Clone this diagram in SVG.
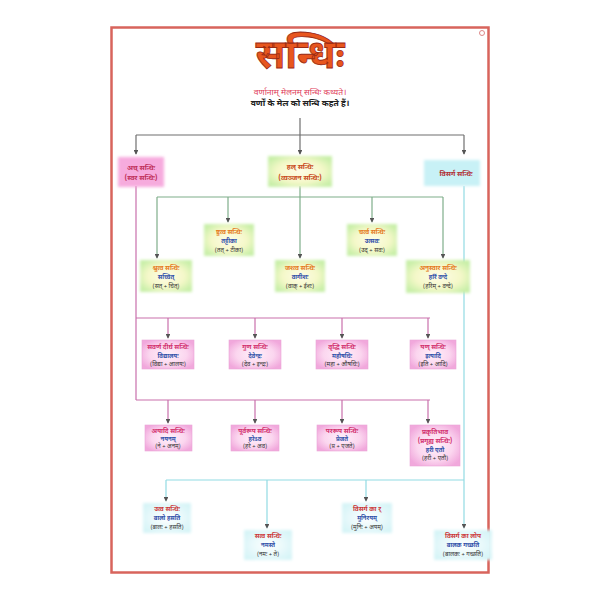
<svg xmlns="http://www.w3.org/2000/svg" width="600" height="600" viewBox="0 0 600 600">
<defs>
<style>
text{font-family:"Noto Sans Devanagari","Noto Sans","Liberation Sans",sans-serif;text-anchor:middle}
.t1{font-size:6.5px;font-weight:bold}
.t2{font-size:6px;fill:#2f4fa8;font-weight:bold}
.t3{font-size:6px;fill:#333}
.hal{fill:#e57a22}
.ac{fill:#d2306e}
.vis{fill:#cc3a3a}
.cg{stroke:#6f6f6f;stroke-width:1.2;fill:none}
.ch{stroke:#7fae8a;stroke-width:1.2;fill:none}
.ca{stroke:#c970ac;stroke-width:1.2;fill:none}
.cv{stroke:#92dbe3;stroke-width:1.2;fill:none}
.ar{marker-end:url(#ar)}
</style>
<marker id="ar" viewBox="0 0 6 6" refX="5" refY="3" markerWidth="4" markerHeight="4" orient="auto">
<path d="M0,0 L6,3 L0,6 z" fill="#555"/>
</marker>
<radialGradient id="gh" cx="50%" cy="50%" r="60%">
<stop offset="0" stop-color="#fffbe6"/><stop offset="0.6" stop-color="#f4f8c8"/><stop offset="1" stop-color="#c8efa8"/>
</radialGradient>
<radialGradient id="ga" cx="50%" cy="50%" r="60%">
<stop offset="0" stop-color="#fff0fa"/><stop offset="0.6" stop-color="#fbd6ef"/><stop offset="1" stop-color="#f1a8dc"/>
</radialGradient>
<radialGradient id="gv" cx="50%" cy="50%" r="60%">
<stop offset="0" stop-color="#ffffff"/><stop offset="1" stop-color="#d6f4f7"/>
</radialGradient>
<filter id="bl" x="-20%" y="-20%" width="140%" height="140%"><feGaussianBlur stdDeviation="1.6"/></filter>
</defs>
<rect width="600" height="600" fill="#fff"/>
<rect x="111.5" y="27.5" width="377" height="545" fill="#fff" stroke="#d8645c" stroke-width="2.5"/>
<circle cx="482" cy="33" r="2.5" fill="none" stroke="#d88" stroke-width="1"/>

<g id="title">
<text x="300" y="68" style="font-size:40px;font-weight:bold;fill:#e8561e;stroke:#9a2a14;stroke-width:0.8">सन्धिः</text>
<text x="300" y="95" style="font-size:8.5px;fill:#e0405a">वर्णानाम् मेलनम् सन्धिः कथ्यते।</text>
<text x="300" y="106" style="font-size:8.5px;fill:#222;font-weight:bold">वर्णों के मेल को सन्धि कहते हैं।</text>
</g>

<g id="connectors">
<path class="cg" d="M300,118 V135 M136,135 H464"/>
<path class="cg ar" d="M136,135 V154"/>
<path class="cg ar" d="M300,135 V154"/>
<path class="cg ar" d="M464,135 V154"/>
<path class="ch" d="M300,186 V197 M157,197 H443"/>
<path class="ch ar" d="M157,197 V258"/>
<path class="ch ar" d="M228,197 V222"/>
<path class="ch ar" d="M300,197 V258"/>
<path class="ch ar" d="M372,197 V222"/>
<path class="ch ar" d="M443,197 V258"/>
<path class="ca" d="M136,186 V400 M136,318 H430 M136,400 H430"/>
<path class="ca ar" d="M168,318 V338"/>
<path class="ca ar" d="M255,318 V338"/>
<path class="ca ar" d="M342,318 V338"/>
<path class="ca ar" d="M428,318 V338"/>
<path class="ca ar" d="M168,400 V423"/>
<path class="ca ar" d="M255,400 V423"/>
<path class="ca ar" d="M342,400 V423"/>
<path class="ca ar" d="M428,400 V423"/>
<path class="cv" d="M166,480 H464"/>
<path class="cv ar" d="M464,186 V528"/>
<path class="cv ar" d="M166,480 V501"/>
<path class="cv ar" d="M267,480 V528"/>
<path class="cv ar" d="M366,480 V501"/>
</g>

<g id="n-ac">
<rect x="118" y="157" width="46" height="30" fill="#f6a2da" filter="url(#bl)" opacity="0.9"/>
<text x="141" y="170" style="font-size:7px;fill:#c0305a;font-weight:bold">अच् सन्धिः</text>
<text x="141" y="180" style="font-size:7px;fill:#c0305a;font-weight:bold">(स्वर सन्धिः)</text>
</g>
<g id="n-hal">
<rect x="268" y="156" width="64" height="31" fill="url(#gh)" filter="url(#bl)"/>
<text x="300" y="169" style="font-size:7px;fill:#c84a20;font-weight:bold">हल् सन्धिः</text>
<text x="300" y="180" style="font-size:7px;fill:#c84a20;font-weight:bold">(व्यञ्जन सन्धिः)</text>
</g>
<g id="n-vis">
<rect x="424" y="160" width="56" height="26" fill="#c8f1f6" filter="url(#bl)"/>
<text x="456" y="176" style="font-size:7px;fill:#b03036;font-weight:bold">विसर्ग सन्धिः</text>
</g>

<g id="h1">
<rect x="140" y="260" width="52" height="32" fill="url(#gh)" filter="url(#bl)"/>
<text class="t1 hal" x="166" y="270">श्चुत्व सन्धिः</text>
<text class="t2" x="166" y="279">सच्चित्</text>
<text class="t3" x="166" y="288">(सत् + चित्)</text>
</g>
<g id="h2">
<rect x="204" y="224" width="50" height="32" fill="url(#gh)" filter="url(#bl)"/>
<text class="t1 hal" x="229" y="234">ष्टुत्व सन्धिः</text>
<text class="t2" x="229" y="243">तट्टीका</text>
<text class="t3" x="229" y="252">(तत् + टीका)</text>
</g>
<g id="h3">
<rect x="275" y="260" width="50" height="32" fill="url(#gh)" filter="url(#bl)"/>
<text class="t1 hal" x="300" y="270">जश्त्व सन्धिः</text>
<text class="t2" x="300" y="279">वागीशः</text>
<text class="t3" x="300" y="288">(वाक् + ईशः)</text>
</g>
<g id="h4">
<rect x="347" y="224" width="50" height="32" fill="url(#gh)" filter="url(#bl)"/>
<text class="t1 hal" x="372" y="234">चर्त्व सन्धिः</text>
<text class="t2" x="372" y="243">उत्सवः</text>
<text class="t3" x="372" y="252">(उद् + सवः)</text>
</g>
<g id="h5">
<rect x="406" y="260" width="64" height="33" fill="url(#gh)" filter="url(#bl)"/>
<text class="t1 hal" x="438" y="270">अनुस्वार सन्धिः</text>
<text class="t2" x="438" y="279">हरिं वन्दे</text>
<text class="t3" x="438" y="288">(हरिम् + वन्दे)</text>
</g>

<g id="a1">
<rect x="142" y="340" width="52" height="29" fill="url(#ga)" stroke="#e9a6d6" stroke-width="0.6"/>
<text class="t1 ac" x="168" y="349">सवर्ण दीर्घ सन्धिः</text>
<text class="t2" x="168" y="358">विद्यालयः</text>
<text class="t3" x="168" y="366">(विद्या + आलयः)</text>
</g>
<g id="a2">
<rect x="229" y="340" width="52" height="29" fill="url(#ga)" stroke="#e9a6d6" stroke-width="0.6"/>
<text class="t1 ac" x="255" y="349">गुण सन्धिः</text>
<text class="t2" x="255" y="358">देवेन्द्रः</text>
<text class="t3" x="255" y="366">(देव + इन्द्रः)</text>
</g>
<g id="a3">
<rect x="316" y="340" width="52" height="29" fill="url(#ga)" stroke="#e9a6d6" stroke-width="0.6"/>
<text class="t1 ac" x="342" y="349">वृद्धि सन्धिः</text>
<text class="t2" x="342" y="358">महौषधिः</text>
<text class="t3" x="342" y="366">(महा + औषधिः)</text>
</g>
<g id="a4">
<rect x="410" y="340" width="46" height="29" fill="url(#ga)" stroke="#e9a6d6" stroke-width="0.6"/>
<text class="t1 ac" x="433" y="349">यण् सन्धिः</text>
<text class="t2" x="433" y="358">इत्यादि</text>
<text class="t3" x="433" y="366">(इति + आदि)</text>
</g>

<g id="b1">
<rect x="145" y="425" width="47" height="26" fill="url(#ga)" stroke="#e9a6d6" stroke-width="0.6"/>
<text class="t1 ac" x="168" y="433">अयादि सन्धिः</text>
<text class="t2" x="168" y="441">नयनम्</text>
<text class="t3" x="168" y="448">(ने + अनम्)</text>
</g>
<g id="b2">
<rect x="231" y="425" width="48" height="26" fill="url(#ga)" stroke="#e9a6d6" stroke-width="0.6"/>
<text class="t1 ac" x="255" y="433">पूर्वरूप सन्धिः</text>
<text class="t2" x="255" y="441">हरेऽव</text>
<text class="t3" x="255" y="448">(हरे + अव)</text>
</g>
<g id="b3">
<rect x="317" y="425" width="50" height="26" fill="url(#ga)" stroke="#e9a6d6" stroke-width="0.6"/>
<text class="t1 ac" x="342" y="433">पररूप सन्धिः</text>
<text class="t2" x="342" y="441">प्रेजते</text>
<text class="t3" x="342" y="448">(प्र + एजते)</text>
</g>
<g id="b4">
<rect x="410" y="425" width="50" height="41" fill="url(#ga)" stroke="#e9a6d6" stroke-width="0.6"/>
<text class="t1 ac" x="435" y="434">प्रकृतिभाव</text>
<text class="t1 ac" x="435" y="443">(प्रगृह्य सन्धिः)</text>
<text class="t2" x="435" y="452">हरी एतौ</text>
<text class="t3" x="435" y="460">(हरी + एतौ)</text>
</g>

<g id="v1">
<rect x="143" y="503" width="48" height="30" fill="url(#gv)" filter="url(#bl)"/>
<text class="t1 vis" x="167" y="511">उत्व सन्धिः</text>
<text class="t2" x="167" y="520">बालो हसति</text>
<text class="t3" x="167" y="529">(बालः + हसति)</text>
</g>
<g id="v2">
<rect x="244" y="530" width="48" height="30" fill="url(#gv)" filter="url(#bl)"/>
<text class="t1 vis" x="268" y="538">सत्व सन्धिः</text>
<text class="t2" x="268" y="547">नमस्ते</text>
<text class="t3" x="268" y="556">(नमः + ते)</text>
</g>
<g id="v3">
<rect x="342" y="503" width="50" height="30" fill="url(#gv)" filter="url(#bl)"/>
<text class="t1 vis" x="367" y="511">विसर्ग का र्</text>
<text class="t2" x="367" y="520">मुनिरयम्</text>
<text class="t3" x="367" y="529">(मुनिः + अयम्)</text>
</g>
<g id="v4">
<rect x="434" y="530" width="58" height="30" fill="url(#gv)" filter="url(#bl)"/>
<text class="t1 vis" x="463" y="538">विसर्ग का लोप</text>
<text class="t2" x="463" y="547">बालक गच्छति</text>
<text class="t3" x="463" y="556">(बालकः + गच्छति)</text>
</g>
</svg>
